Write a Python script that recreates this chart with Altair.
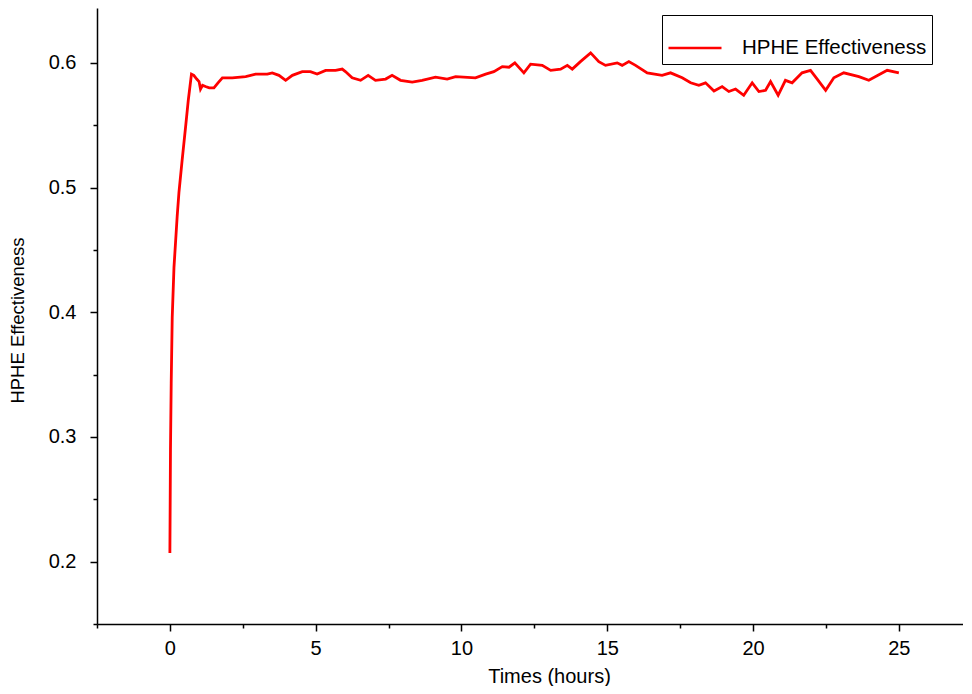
import altair as alt
import pandas as pd

series_name = "HPHE Effectiveness"

hours = [
    0, 0.02, 0.045, 0.08, 0.14, 0.25, 0.31, 0.42, 0.54, 0.63,
    0.74, 0.82, 0.92, 1.0, 1.05, 1.12, 1.22, 1.35, 1.51, 1.65,
    1.8, 2.14, 2.6, 2.94, 3.34, 3.51, 3.74, 3.97, 4.2, 4.54,
    4.82, 5.05, 5.34, 5.68, 5.91, 6.02, 6.25, 6.54, 6.80, 7.05,
    7.40, 7.62, 7.91, 8.31, 8.65, 9.11, 9.51, 9.80, 10.48, 10.83,
    11.11, 11.40, 11.63, 11.83, 12.14, 12.37, 12.77, 13.06, 13.40, 13.63,
    13.80, 14.08, 14.43, 14.71, 14.94, 15.34, 15.51, 15.74, 15.97, 16.37,
    16.88, 17.17, 17.57, 17.86, 18.14, 18.37, 18.66, 18.94, 19.17, 19.40,
    19.68, 19.97, 20.20, 20.43, 20.60, 20.86, 21.11, 21.34, 21.68, 21.97,
    22.20, 22.49, 22.77, 23.11, 23.63, 23.97, 24.60, 25.0,
]

effectiveness = [
    0.207, 0.290, 0.343, 0.396, 0.436, 0.477, 0.496, 0.522, 0.549, 0.570,
    0.591, 0.590, 0.587, 0.585, 0.579, 0.582, 0.581, 0.580, 0.580, 0.584,
    0.588, 0.588, 0.589, 0.591, 0.591, 0.592, 0.590, 0.586, 0.590, 0.593,
    0.593, 0.591, 0.594, 0.594, 0.595, 0.593, 0.588, 0.586, 0.590, 0.586,
    0.587, 0.590, 0.586, 0.5845, 0.586, 0.5885, 0.587, 0.589, 0.588, 0.591,
    0.593, 0.597, 0.5965, 0.600, 0.592, 0.599, 0.598, 0.594, 0.595, 0.598,
    0.595, 0.601, 0.608, 0.601, 0.598, 0.600, 0.598, 0.601, 0.598, 0.592,
    0.590, 0.592, 0.588, 0.584, 0.582, 0.584, 0.5775, 0.581, 0.577, 0.579,
    0.574, 0.584, 0.577, 0.578, 0.585, 0.574, 0.586, 0.584, 0.592, 0.594,
    0.587, 0.578, 0.588, 0.592, 0.589, 0.586, 0.594, 0.592,
]

x_ticks = [-2.5, 0, 2.5, 5, 7.5, 10, 12.5, 15, 17.5, 20, 22.5, 25]
y_ticks = [0.15, 0.2, 0.25, 0.3, 0.35, 0.4, 0.45, 0.5, 0.55, 0.6]

df = pd.DataFrame({
    "t": hours,
    "v": effectiveness,
    "series": [series_name] * len(hours),
})

FONT = "Liberation Sans"

x_axis = alt.Axis(
    values=x_ticks,
    title="Times (hours)",
    titleFontSize=20,
    titleFontWeight="normal",
    titleX=452,
    titleY=58,
    titleBaseline="alphabetic",
    labelFontSize=20,
    labelExpr="datum.value % 5 === 0 ? datum.label : ''",
    labelOverlap=False,
    labelFlush=False,
    labelPadding=7,
    tickSize={"condition": {"test": "datum.value % 5 === 0", "value": 7}, "value": 4},
    grid=False,
)

y_axis = alt.Axis(
    values=y_ticks,
    title="HPHE Effectiveness",
    titleFontSize=18.5,
    titleFontWeight="normal",
    titleAngle=270,
    titleX=-74,
    titleY=312,
    titleBaseline="alphabetic",
    labelFontSize=20,
    labelExpr="abs(round(datum.value * 20)) % 2 === 0 ? format(datum.value, '.1f') : ''",
    labelOverlap=False,
    labelFlush=False,
    labelPadding=14,
    tickSize={"condition": {"test": "abs(round(datum.value * 20)) % 2 === 0", "value": 7}, "value": 4},
    grid=False,
)

chart = (
    alt.Chart(df)
    .mark_line(strokeWidth=2.8, clip=True)
    .encode(
        x=alt.X("t:Q", scale=alt.Scale(domain=[-2.5, 27.2], nice=False, zero=False), axis=x_axis),
        y=alt.Y("v:Q", scale=alt.Scale(domain=[0.15, 0.644], nice=False, zero=False), axis=y_axis),
        color=alt.Color(
            "series:N",
            scale=alt.Scale(domain=[series_name], range=["#ff0000"]),
            legend=alt.Legend(
                title=None,
                orient="none",
                legendX=565,
                legendY=7,
                symbolType="stroke",
                symbolSize=2809,
                symbolStrokeWidth=2.5,
                labelFontSize=20.5,
                labelOffset=19,
                labelLimit=400,
                padding=5,
                strokeColor="black",
                fillColor="white",
            ),
        ),
    )
    .properties(
        width=866,
        height=616,
        padding={"left": 89, "top": 0, "right": 0, "bottom": 62},
        autosize=alt.AutoSizeParams(type="none"),
    )
    .configure(font=FONT)
    .configure_view(stroke=None)
    .configure_axis(
        domainColor="black",
        domainWidth=1.5,
        tickColor="black",
        tickWidth=1.5,
        labelColor="black",
        titleColor="black",
        labelFont=FONT,
        titleFont=FONT,
    )
    .configure_legend(labelFont=FONT, labelColor="black")
)

chart.save("out.html", embed_options={"renderer": "svg", "actions": False})
